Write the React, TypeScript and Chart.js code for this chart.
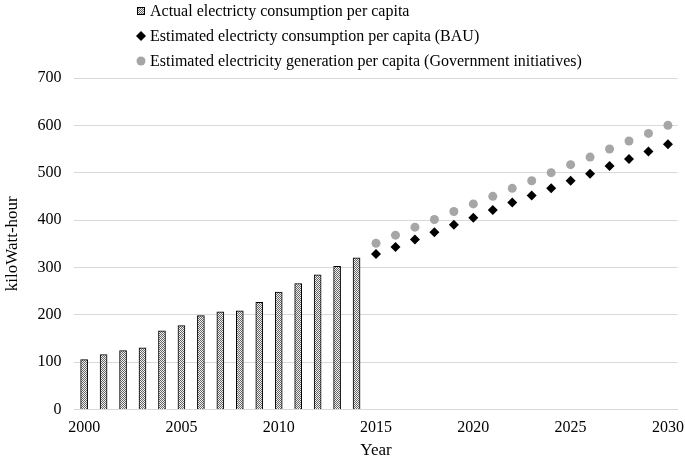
import React, { useRef, useEffect } from 'react'
import { Chart, registerables } from 'chart.js'

Chart.register(...registerables)

// data
const years: string[] = []
for (let y = 2000; y <= 2030; y++) years.push(String(y))

const actualConsumption = [
	105, 116, 124, 130, 166, 177, 198, 206, 208, 226, 248, 266, 284, 302, 320,
]
const bauConsumption = [
	328, 343, 359, 374, 390, 405, 421, 437, 452, 467, 483, 498, 514, 529, 545, 560,
]
const govGeneration = [
	351, 368, 385, 401, 418, 434, 450, 467, 483, 500, 517, 533, 550, 567, 583, 600,
]

const legendLabels = [
	'Actual electricty consumption per capita',
	'Estimated electricty consumption per capita (BAU)',
	'Estimated electricity generation per capita (Government initiatives)',
]

const FONT = '"Liberation Serif", "Times New Roman", serif'

const makePattern = (): CanvasPattern | string => {
	const c = document.createElement('canvas')
	c.width = 2
	c.height = 2
	const g = c.getContext('2d')
	if (!g) return '#999'
	g.fillStyle = '#f2f2f2'
	g.fillRect(0, 0, 2, 2)
	g.fillStyle = '#666666'
	g.fillRect(0, 0, 1, 1)
	g.fillRect(1, 1, 1, 1)
	const p = g.createPattern(c, 'repeat')
	return p || '#999'
}

// legend drawn one item per line, like the original
const stackedLegend = {
	id: 'stackedLegend',
	afterDraw(chart: Chart) {
		const ctx = chart.ctx
		const x0 = 137
		const rows = [11, 36, 61]
		ctx.save()
		ctx.font = '16px ' + FONT
		ctx.textBaseline = 'middle'
		ctx.fillStyle = '#000'
		legendLabels.forEach((text, i) => {
			const y = rows[i]
			if (i === 0) {
				ctx.fillStyle = makePattern() as any
				ctx.fillRect(x0, y - 4, 8, 8)
				ctx.strokeStyle = '#000'
				ctx.lineWidth = 1
				ctx.strokeRect(x0 + 0.5, y - 3.5, 7, 7)
			} else if (i === 1) {
				ctx.fillStyle = '#000'
				ctx.beginPath()
				ctx.moveTo(x0 + 4, y - 5)
				ctx.lineTo(x0 + 9, y)
				ctx.lineTo(x0 + 4, y + 5)
				ctx.lineTo(x0 - 1, y)
				ctx.closePath()
				ctx.fill()
			} else {
				ctx.fillStyle = '#a6a6a6'
				ctx.beginPath()
				ctx.arc(x0 + 4, y, 4.5, 0, Math.PI * 2)
				ctx.fill()
			}
			ctx.fillStyle = '#000'
			ctx.fillText(text, x0 + 13, y + 1)
		})
		ctx.restore()
	},
}

const ElectricityChart: React.FC = () => {
	const chartRef = useRef<HTMLCanvasElement | null>(null)

	useEffect(() => {
		if (!chartRef.current) return
		const ctx = chartRef.current.getContext('2d')
		if (!ctx) return
		const pad = (arr: number[], before: number) => {
			const out: (number | null)[] = []
			for (let i = 0; i < before; i++) out.push(null)
			return out.concat(arr)
		}
		const newChart = new Chart(ctx, {
			type: 'bar',
			data: {
				labels: years,
				datasets: [
					{
						label: legendLabels[0],
						data: actualConsumption as (number | null)[],
						backgroundColor: makePattern() as any,
						borderColor: '#000',
						borderWidth: 1,
						barThickness: 7,
						order: 3,
					},
					{
						type: 'line',
						label: legendLabels[1],
						data: pad(bauConsumption, 15),
						showLine: false,
						pointStyle: 'rectRot',
						pointRadius: 5,
						backgroundColor: '#000',
						borderColor: '#000',
						borderWidth: 0,
						order: 2,
					},
					{
						type: 'line',
						label: legendLabels[2],
						data: pad(govGeneration, 15),
						showLine: false,
						pointStyle: 'circle',
						pointRadius: 4.5,
						backgroundColor: '#a6a6a6',
						borderColor: '#a6a6a6',
						borderWidth: 0,
						order: 1,
					},
				] as any,
			},
			options: {
				animation: false,
				responsive: true,
				maintainAspectRatio: false,
				layout: { padding: { top: 78, right: 0, left: 2, bottom: 0 } },
				plugins: {
					legend: { display: false },
					tooltip: { enabled: false },
				},
				scales: {
					x: {
						offset: true,
						grid: { display: false },
						border: { display: true, color: '#d9d9d9', width: 1 },
						ticks: {
							autoSkip: false,
							maxRotation: 0,
							color: '#000',
							padding: 1,
							font: { family: FONT, size: 16 },
							callback: (_v: any, i: number) => (i % 5 === 0 ? years[i] : ''),
						},
						title: {
							display: true,
							text: 'Year',
							color: '#000',
							font: { family: FONT, size: 17 },
							padding: { top: 2, bottom: 0 },
						},
					},
					y: {
						min: 0,
						max: 700,
						ticks: {
							stepSize: 100,
							color: '#000',
							padding: 13,
							font: { family: FONT, size: 16 },
						},
						grid: { color: '#d9d9d9', drawTicks: false },
						border: { display: false },
						title: {
							display: true,
							text: 'kiloWatt-hour',
							color: '#000',
							font: { family: FONT, size: 17 },
							padding: { top: 0, bottom: 2 },
						},
					},
				},
			},
			plugins: [stackedLegend],
		})
		return () => {
			newChart.destroy()
		}
	}, [])

	return <canvas ref={chartRef} />
}

export default function App() {
	return (
		<div
			style={{
				position: 'fixed',
				left: 0,
				top: 0,
				width: 685,
				height: 461,
				background: '#fff',
			}}
		>
			<ElectricityChart />
		</div>
	)
}
